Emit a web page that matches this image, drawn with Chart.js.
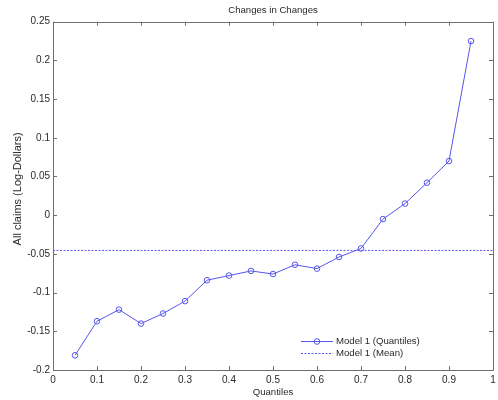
<!DOCTYPE html>
<html>
<head>
<meta charset="utf-8">
<script src="https://cdn.jsdelivr.net/npm/chart.js@4.4.1/dist/chart.umd.min.js"></script>
<style>
  html, body { margin: 0; padding: 0; background: #ffffff; }
  #wrap { width: 498px; height: 400px; }
</style>
</head>
<body>
<div id="wrap"><canvas id="c" width="498" height="400"></canvas></div>
<script>
// Quantile treatment effects (changes-in-changes) and the mean effect
const quantiles = [0.05, 0.10, 0.15, 0.20, 0.25, 0.30, 0.35, 0.40, 0.45, 0.50,
                   0.55, 0.60, 0.65, 0.70, 0.75, 0.80, 0.85, 0.90, 0.95];
const quantileEffects = [-0.181, -0.137, -0.122, -0.140, -0.127, -0.111, -0.084, -0.078, -0.072, -0.076,
                         -0.064, -0.069, -0.054, -0.043, -0.005, 0.015, 0.042, 0.070, 0.225];
const meanEffect = -0.0455;
const meanSpan = [0, 1];

const xTicks = [0, 0.1, 0.2, 0.3, 0.4, 0.5, 0.6, 0.7, 0.8, 0.9, 1];
const yTicks = [-0.2, -0.15, -0.1, -0.05, 0, 0.05, 0.1, 0.15, 0.2, 0.25];

const seriesLabels = ['Model 1 (Quantiles)', 'Model 1 (Mean)'];
const chartTitle = 'Changes in Changes';
const yAxisLabel = 'All claims (Log-Dollars)';

const BLUE = '#5656ec';
const FRAME = '#6e6e6e';
const TEXT = '#2a2a2a';
const FAMILY = '"Liberation Sans", Arial, sans-serif';
const FONT = { family: FAMILY, size: 10 };

function fmt(v) {
  const n = Math.round(v * 100) / 100;
  return (n === 0 ? 0 : n).toString();
}

// Box frame with inward ticks on all four sides
const framePlugin = {
  id: 'frame',
  afterDatasetsDraw(chart) {
    const { ctx, chartArea: a, scales } = chart;
    const len = 4;
    ctx.save();
    ctx.strokeStyle = FRAME;
    ctx.lineWidth = 1;
    ctx.beginPath();
    ctx.rect(Math.round(a.left) + 0.5, Math.round(a.top) + 0.5,
             Math.round(a.right - a.left), Math.round(a.bottom - a.top));
    xTicks.forEach(v => {
      const px = Math.round(scales.x.getPixelForValue(v)) + 0.5;
      ctx.moveTo(px, a.bottom); ctx.lineTo(px, a.bottom - len);
      ctx.moveTo(px, a.top); ctx.lineTo(px, a.top + len);
    });
    yTicks.forEach(v => {
      const py = Math.round(scales.y.getPixelForValue(v)) + 0.5;
      ctx.moveTo(a.left, py); ctx.lineTo(a.left + len, py);
      ctx.moveTo(a.right, py); ctx.lineTo(a.right - len, py);
    });
    ctx.stroke();
    ctx.restore();
  }
};

// Title over the plot box, vertical axis label, and legend in the lower right
const annotations = {
  id: 'annotations',
  afterDraw(chart) {
    const { ctx, chartArea: a } = chart;
    ctx.save();
    ctx.fillStyle = TEXT;
    ctx.textAlign = 'center';
    ctx.textBaseline = 'middle';
    ctx.font = '9.6px ' + FAMILY;
    ctx.fillText(chartTitle, (a.left + a.right) / 2, 10);
    ctx.font = '11px ' + FAMILY;
    ctx.translate(18, (a.top + a.bottom) / 2 - 7);
    ctx.rotate(-Math.PI / 2);
    ctx.fillText(yAxisLabel, 0, 0);
    ctx.restore();

    const x0 = a.right - 192, x1 = a.right - 160, tx = a.right - 157;
    const rows = [a.bottom - 29, a.bottom - 17];
    const styles = [
      { dash: [], marker: true },
      { dash: [2, 1.5], marker: false }
    ];
    ctx.save();
    ctx.font = '9.6px ' + FAMILY;
    ctx.textBaseline = 'middle';
    ctx.textAlign = 'left';
    seriesLabels.forEach((label, i) => {
      const y = rows[i] + 0.5;
      ctx.strokeStyle = BLUE;
      ctx.lineWidth = 1;
      ctx.setLineDash(styles[i].dash);
      ctx.beginPath();
      ctx.moveTo(x0, y); ctx.lineTo(x1, y);
      ctx.stroke();
      ctx.setLineDash([]);
      if (styles[i].marker) {
        ctx.beginPath();
        ctx.arc((x0 + x1) / 2, y, 2.8, 0, Math.PI * 2);
        ctx.stroke();
      }
      ctx.fillStyle = TEXT;
      ctx.fillText(label, tx, rows[i]);
    });
    ctx.restore();
  }
};

new Chart(document.getElementById('c'), {
  type: 'line',
  data: {
    datasets: [
      {
        label: seriesLabels[0],
        data: quantiles.map((q, i) => ({ x: q, y: quantileEffects[i] })),
        borderColor: BLUE,
        borderWidth: 1,
        pointRadius: 2.8,
        pointStyle: 'circle',
        pointBackgroundColor: 'rgba(0,0,0,0)',
        pointBorderColor: BLUE,
        pointBorderWidth: 1,
        tension: 0,
        fill: false
      },
      {
        label: seriesLabels[1],
        data: meanSpan.map(x => ({ x: x, y: meanEffect })),
        borderColor: BLUE,
        borderWidth: 1,
        borderDash: [2, 1.5],
        pointRadius: 0,
        tension: 0,
        fill: false
      }
    ]
  },
  options: {
    responsive: false,
    animation: false,
    devicePixelRatio: 1,
    layout: { padding: { left: 0, right: 3, top: 21.7, bottom: 0 } },
    plugins: {
      legend: { display: false },
      tooltip: { enabled: false },
      title: { display: false }
    },
    scales: {
      x: {
        type: 'linear',
        min: 0,
        max: 1,
        afterBuildTicks(scale) { scale.ticks = xTicks.map(v => ({ value: v })); },
        afterFit(scale) { scale.height = 30; scale.paddingRight = 0; scale.paddingLeft = 0; },
        grid: { display: false, drawTicks: false },
        border: { display: false },
        ticks: { color: TEXT, font: FONT, padding: 4, maxRotation: 0, autoSkip: false, callback: v => fmt(v) },
        title: {
          display: true, text: 'Quantiles', color: TEXT,
          font: { family: FAMILY, size: 9.6, lineHeight: 1.2 },
          padding: { top: 0, bottom: 1.5 }
        }
      },
      y: {
        type: 'linear',
        min: -0.2,
        max: 0.25,
        afterBuildTicks(scale) { scale.ticks = yTicks.map(v => ({ value: v })); },
        afterFit(scale) { scale.width = 53; scale.paddingTop = 0; scale.paddingBottom = 0; },
        grid: { display: false, drawTicks: false },
        border: { display: false },
        ticks: { color: TEXT, font: FONT, padding: 3, autoSkip: false, callback: v => fmt(v) },
        title: { display: false }
      }
    }
  },
  plugins: [framePlugin, annotations]
});
</script>
</body>
</html>
